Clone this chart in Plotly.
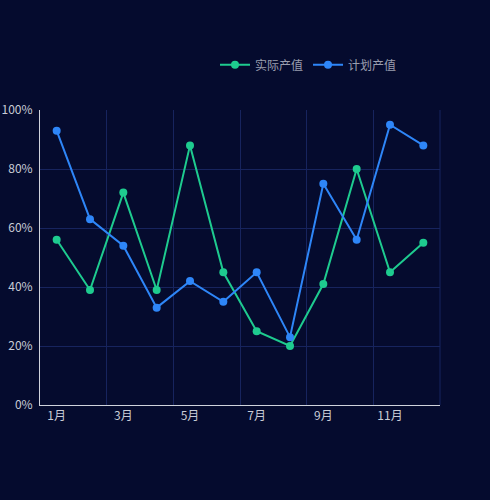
import plotly.graph_objects as go

months = ["1月", "2月", "3月", "4月", "5月", "6月", "7月", "8月", "9月", "10月", "11月", "12月"]
actual = [56, 39, 72, 39, 88, 45, 25, 20, 41, 80, 45, 55]
plan = [93, 63, 54, 33, 42, 35, 45, 23, 75, 56, 95, 88]
y_ticks = [0, 20, 40, 60, 80, 100]
y_labels = [f"{v}%" for v in y_ticks]

bg = "#050b2e"
grid = "#17245e"
green = "#1ecb8f"
blue = "#2e86f8"

fig = go.Figure()
fig.add_trace(go.Scatter(x=months, y=actual, name="实际产值", mode="lines+markers",
                         line=dict(color=green, width=2), marker=dict(size=8, color=green)))
fig.add_trace(go.Scatter(x=months, y=plan, name="计划产值", mode="lines+markers",
                         line=dict(color=blue, width=2), marker=dict(size=8, color=blue)))

fig.update_layout(
    width=490, height=500,
    paper_bgcolor=bg, plot_bgcolor=bg,
    margin=dict(l=40, r=50, t=110, b=95),
    font=dict(family="Noto Sans CJK SC, Noto Sans, sans-serif", size=12, color="#c8cbd6"),
    showlegend=True,
    legend=dict(orientation="h", x=0.905, xanchor="right", y=1.153, yanchor="middle",
                font=dict(color="#9a9eae", size=12), bgcolor="rgba(0,0,0,0)"),
    xaxis=dict(type="category", range=[-0.5, 11.5], dtick=2, tickson="boundaries",
               showgrid=True, gridcolor=grid, gridwidth=1, automargin=False,
               showline=True, linecolor="#d0d3dc", linewidth=1,
               ticks="", zeroline=False, tickfont=dict(color="#c8cbd6")),
    yaxis=dict(range=[0, 100], tickmode="array", tickvals=y_ticks, ticktext=y_labels,
               showgrid=True, gridcolor=grid, gridwidth=1, automargin=False,
               showline=True, linecolor="#d0d3dc", linewidth=1,
               zeroline=False, ticks="", ticklabelstandoff=4, tickfont=dict(color="#c8cbd6")),
    shapes=[dict(type="line", xref="paper", yref="paper", x0=1, x1=1, y0=0, y1=1,
                 line=dict(color=grid, width=1), layer="below")],
)

fig.write_html("out.html", config={"displayModeBar": False},
               post_script="document.body.style.margin='0';document.body.style.background='#050b2e';")
